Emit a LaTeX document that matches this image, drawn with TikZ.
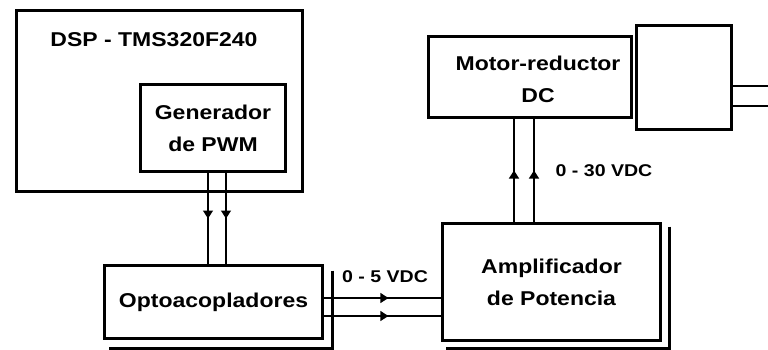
\documentclass[tikz,border=0pt]{standalone}
\usepackage{fontspec}
\setmainfont{Liberation Sans}[FakeStretch=1.15]
\usetikzlibrary{arrows.meta,decorations.markings}
\begin{document}
\begin{tikzpicture}[x=1pt,y=-1pt,
  box/.style={draw, line width=3pt, inner sep=0pt, rectangle},
  txt/.style={font=\fontsize{20}{32}\selectfont\bfseries, align=center, inner sep=0pt},
  lbl/.style={font=\fontsize{17}{20}\selectfont\bfseries, inner sep=0pt},
  wire/.style={line width=1.5pt},
  flow/.style={wire, postaction={decorate}, decoration={markings, mark=at position #1 with {\arrow{Triangle[length=8pt,width=10pt]}}}},
  shadowline/.style={line width=3pt},
  shaft/.style={line width=2.5pt}]
\fill[white] (0,0) rectangle (768,349);
\useasboundingbox (0,0) rectangle (768,349);

% DSP
\node[box, minimum width=286pt, minimum height=181pt] (dsp) at (159.5,101) {};
\node[txt] (dsptitle) at (154,40) {DSP - TMS320F240};
\node[box, txt, minimum width=145pt, minimum height=87pt] (gen) at (213,128) {Generador\\de PWM};

% Opto
\node[box, txt, minimum width=218pt, minimum height=73pt] (opto) at (213.5,302) {Optoacopladores};
\draw[shadowline] ([xshift=8.5pt,yshift=-6.5pt]opto.north east) |- ([xshift=5.5pt,yshift=-8.5pt]opto.south west);

% Amp
\node[box, txt, minimum width=218pt, minimum height=117pt] (amp) at (551.5,282) {Amplificador\\de Potencia};
\draw[shadowline] ([xshift=7.5pt,yshift=-4.5pt]amp.north east) |- ([xshift=5pt,yshift=-6.5pt]amp.south west);

% Motor
\node[box, minimum width=203pt, minimum height=81pt] (motor) at (530,77) {};
\node[txt] (motortext) at (538,79) {Motor-reductor\\DC};
\node[box, minimum width=95pt, minimum height=104pt] (gear) at (684,77.5) {};
\coordinate (shaftA) at (768,86);
\coordinate (shaftB) at (768,106);
\draw[shaft] (gear.east |- shaftA) -- (shaftA);
\draw[shaft] (gear.east |- shaftB) -- (shaftB);

% wires
\draw[flow=0.5] ([xshift=-5pt]gen.south) -- ([xshift=-5pt]gen.south |- opto.north);
\draw[flow=0.5] ([xshift=13pt]gen.south) -- ([xshift=13pt]gen.south |- opto.north);

\draw[flow=0.55] ([yshift=4pt]opto.east) -- ([yshift=4pt]opto.east -| amp.west);
\draw[flow=0.55] ([yshift=-14pt]opto.east) -- ([yshift=-14pt]opto.east -| amp.west);

\draw[flow=0.5] ([xshift=-37.5pt]amp.north) -- ([xshift=-37.5pt]amp.north |- motor.south);
\draw[flow=0.5] ([xshift=-17.5pt]amp.north) -- ([xshift=-17.5pt]amp.north |- motor.south);

\node[lbl] (v5) at (385,277) {0 - 5 VDC};
\node[lbl] (v30) at (604,171) {0 - 30 VDC};
\end{tikzpicture}
\end{document}
